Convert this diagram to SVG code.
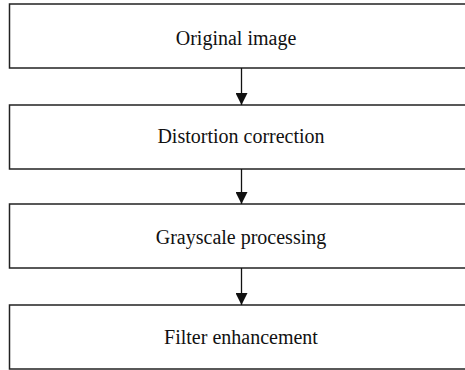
<svg xmlns="http://www.w3.org/2000/svg" width="465" height="370" viewBox="0 0 465 370">
<style>
.box{fill:#fff;stroke:#222;stroke-width:1.5}
.lbl{font-family:"Liberation Serif","Times New Roman",serif;font-size:20px;fill:#111;text-anchor:middle}
.con{stroke:#111;stroke-width:1.3;fill:none}
</style>
<defs>
<marker id="ah" viewBox="0 0 12 12" refX="12" refY="6" markerWidth="12" markerHeight="12" markerUnits="userSpaceOnUse" orient="auto">
<path d="M0,0 L12,6 L0,12 z" fill="#111"/>
</marker>
</defs>
<rect width="465" height="370" fill="#fff"/>
<g id="n1"><rect class="box" x="9.5" y="4" width="470" height="64"/><text class="lbl" x="236" y="45">Original image</text></g>
<g id="n2"><rect class="box" x="9.5" y="105" width="470" height="64"/><text class="lbl" x="241" y="143">Distortion correction</text></g>
<g id="n3"><rect class="box" x="9.5" y="204" width="470" height="64"/><text class="lbl" x="241" y="244">Grayscale processing</text></g>
<g id="n4"><rect class="box" x="9.5" y="305" width="470" height="64"/><text class="lbl" x="241" y="344">Filter enhancement</text></g>
<g id="connectors">
<line class="con" x1="241.5" y1="68" x2="241.5" y2="105" marker-end="url(#ah)"/>
<line class="con" x1="241.5" y1="169" x2="241.5" y2="204" marker-end="url(#ah)"/>
<line class="con" x1="241.5" y1="268" x2="241.5" y2="305" marker-end="url(#ah)"/>
</g>
</svg>
